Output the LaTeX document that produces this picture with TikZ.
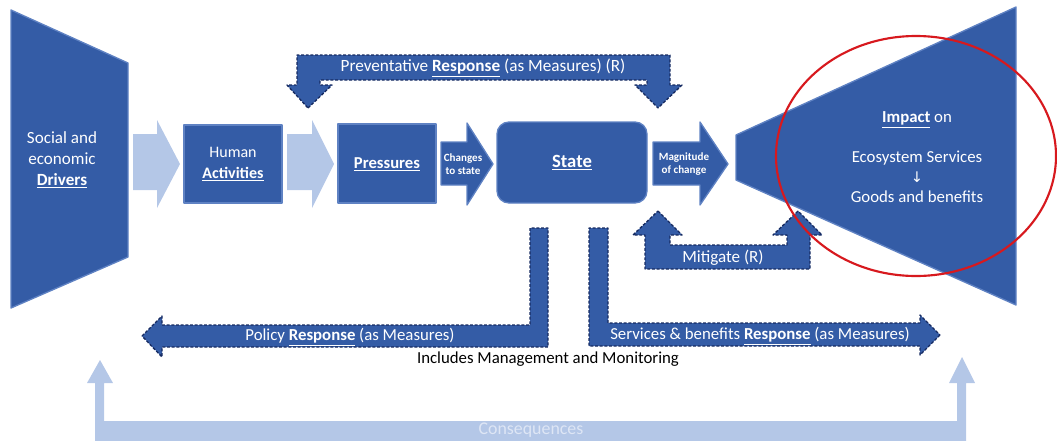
\documentclass[tikz,border=0pt]{standalone}
\usepackage{fontspec}
\setmainfont{Carlito}
\newfontfamily\symf{DejaVu Sans}
\definecolor{mblue}{RGB}{52,92,166}
\definecolor{edgeblue}{RGB}{95,130,195}
\definecolor{dashnavy}{RGB}{22,42,96}
\definecolor{lblue}{RGB}{180,199,231}
\definecolor{ltext}{RGB}{222,230,245}
\definecolor{ovalred}{RGB}{215,25,30}
\tikzset{
  solidshape/.style={fill=mblue, draw=edgeblue, line width=1pt, line join=round},
  dashshape/.style={fill=mblue, draw=dashnavy, dash pattern=on 2.2pt off 1.3pt, line width=1pt, line join=round},
  wtext/.style={text=white, align=center, inner sep=0pt}
}
\begin{document}
\begin{tikzpicture}[x=0.75pt,y=-0.75pt]
\useasboundingbox (0,0) rectangle (1057,440);
\clip (0,0) rectangle (1057,440);

% left trapezoid
\draw[solidshape] (11,10) -- (128,63) -- (128,257) -- (11,308) -- cycle;
\node[wtext, font=\fontsize{12.8pt}{15.5pt}\selectfont] (drivers) at (62,160) {Social and\\economic\\\underline{\textbf{Drivers}}};

% light arrows
\fill[lblue] (133,134) -- (157,134) -- (157,120) -- (180,164) -- (157,208) -- (157,190) -- (133,190) -- cycle;
\fill[lblue] (287,134) -- (312,134) -- (312,120) -- (334,164) -- (312,208) -- (312,190) -- (287,190) -- cycle;

% boxes
\draw[solidshape] (184,125) rectangle (282,203);
\node[wtext, font=\fontsize{12pt}{15.5pt}\selectfont] (human) at (233,164) {Human\\\underline{\textbf{Activities}}};
\draw[solidshape] (338,124) rectangle (436,203);
\node[wtext, font=\fontsize{12.5pt}{15pt}\selectfont] (press) at (387,164) {\underline{\textbf{Pressures}}};
\draw[solidshape, rounded corners=9pt] (497,122) rectangle (647,203);
\node[wtext, font=\fontsize{14pt}{18pt}\selectfont] (state) at (572,163) {\underline{\textbf{State}}};

% dark arrows
\draw[solidshape] (441,142) -- (467,142) -- (467,123) -- (493,164) -- (467,205) -- (467,185) -- (441,185) -- cycle;
\node[wtext, font=\fontsize{8.3pt}{10pt}\selectfont\bfseries] (changes) at (463,164) {Changes\\to state};
\draw[solidshape] (653,142) -- (700,142) -- (700,122) -- (728,164) -- (700,205) -- (700,185) -- (653,185) -- cycle;
\node[wtext, font=\fontsize{8.3pt}{10pt}\selectfont\bfseries] (magn) at (684,164) {Magnitude\\of change};

% right funnel
\draw[solidshape] (736,135) -- (1016,7) -- (1016,305) -- (736,180) -- cycle;
\node[wtext, font=\fontsize{12.6pt}{15pt}\selectfont] (impact) at (917,157) {\underline{\textbf{Impact}} on\\[15pt]Ecosystem Services\\{\symf\fontsize{11pt}{15pt}\selectfont ↓}\\Goods and benefits};

% preventative response
\draw[dashshape] (308,108) -- (332,85) -- (320,85) -- (320,80) -- (647,80) -- (647,85) -- (635,85) -- (658,108) -- (682,85) -- (670,85) -- (670,55) -- (297,55) -- (297,85) -- (287,85) -- cycle;
\node[wtext, font=\fontsize{12.9pt}{15pt}\selectfont] (prev) at (483,68) {Preventative \underline{\textbf{Response}} (as Measures) (R)};

% mitigate
\draw[dashshape] (658,211) -- (682,235) -- (670,235) -- (670,245) -- (787,245) -- (787,235) -- (773,235) -- (798,211) -- (822,235) -- (810,235) -- (810,269) -- (645,269) -- (645,235) -- (633,235) -- cycle;
\node[wtext, font=\fontsize{12.8pt}{15pt}\selectfont] (mitig) at (723,258) {Mitigate (R)};

% policy response
\draw[dashshape] (142,336) -- (162,316) -- (162,325) -- (530,325) -- (530,228) -- (548,228) -- (548,347) -- (162,347) -- (162,357) -- cycle;
\node[wtext, font=\fontsize{12.6pt}{15pt}\selectfont] (policy) at (350,337) {Policy \underline{\textbf{Response}} (as Measures)};

% services response
\draw[dashshape] (940,335) -- (920,355) -- (920,346) -- (589,346) -- (589,228) -- (608,228) -- (608,323) -- (920,323) -- (920,315) -- cycle;
\node[wtext, font=\fontsize{12.6pt}{15pt}\selectfont] (serv) at (760,336) {Services \& benefits \underline{\textbf{Response}} (as Measures)};

\node[inner sep=0pt, text=black, font=\fontsize{12.6pt}{15pt}\selectfont] (incl) at (548,359) {Includes Management and Monitoring};

% consequences
\fill[lblue] (100,360) -- (113,383) -- (104,383) -- (104,421) -- (957,421) -- (957,383) -- (949,383) -- (962,357) -- (975,383) -- (966,383) -- (966,450) -- (95,450) -- (95,383) -- (87,383) -- cycle;
\node[inner sep=0pt, text=ltext, font=\fontsize{13.4pt}{16pt}\selectfont] (cons) at (531,430) {Consequences};

% red oval
\draw[ovalred, line width=1.6pt] (916,156) ellipse [x radius=140, y radius=120];
\end{tikzpicture}
\end{document}
